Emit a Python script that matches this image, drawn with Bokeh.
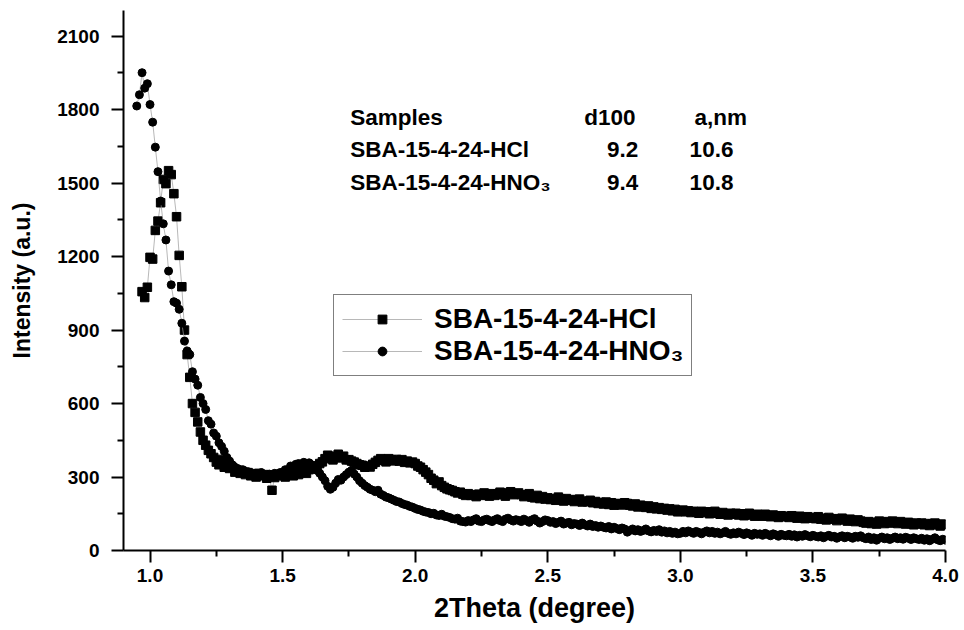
import numpy as np
from bokeh.plotting import figure
from bokeh.models import Range1d, Legend, LegendItem, Label, FixedTicker, PrintfTickFormatter
from bokeh.embed import file_html
from bokeh.resources import INLINE

# ---- data (2Theta scan, step 0.01 degree) ----
scan_step = 0.01
hcl_start = 0.97
hno3_start = 0.95

hcl_y = [
    1057, 1033, 1075,
    1197, 1190, 1307, 1345, 1420, 1515, 1498, 1551, 1535, 1457,
    1363, 1205, 1077, 900, 800, 707, 600, 564, 525, 484,
    450, 430, 409, 395, 380, 361, 350, 372, 340, 345,
    335, 340, 320, 328, 315, 322, 310, 318, 305, 312,
    300, 315, 305, 310, 295, 302, 246, 298, 310, 305,
    312, 300, 308, 315, 305, 320, 310, 318, 325, 315,
    330, 335, 345, 340, 355, 362, 375, 389, 380, 370,
    385, 393, 378, 385, 370, 371, 365, 361, 355, 350,
    348, 340, 345, 341, 352, 360, 368, 375, 370, 362,
    375, 370, 366, 372, 365, 371, 360, 365, 358, 361,
    355, 345, 340, 330, 320, 310, 295, 287, 273, 280,
    265, 258, 252, 248, 245, 240, 235, 238, 230, 225,
    232, 225, 228, 220, 230, 225, 235, 228, 222, 232,
    225, 230, 238, 228, 222, 235, 240, 228, 232, 235,
    228, 220, 225, 232, 218, 215, 225, 212, 220, 210,
    215, 208, 212, 205, 218, 210, 202, 212, 205, 208,
    200, 205, 210, 198, 202, 199, 205, 195, 200, 192,
    196, 190, 198, 188, 195, 185, 192, 190, 186, 195,
    192, 185, 182, 190, 178, 185, 180, 176, 182, 172,
    178, 170, 175, 168, 172, 165, 170, 162, 168, 158,
    160, 165, 158, 162, 155, 160, 157, 152, 160, 155,
    158, 150, 155, 160, 152, 148, 155, 150, 145, 152,
    148, 152, 145, 150, 142, 148, 152, 145, 140, 148,
    145, 140, 148, 142, 138, 145, 140, 135, 142, 138,
    140, 135, 142, 138, 132, 140, 135, 130, 138, 132,
    135, 130, 138, 128, 132, 125, 135, 128, 130, 122,
    128, 132, 125, 120, 128, 122, 118, 125, 120, 115,
    112, 118, 110, 115, 108, 120, 115, 110, 118, 112,
    120, 115, 110, 118, 112, 108, 115, 110, 105, 112,
    108, 112, 105, 110, 102, 108, 112, 105, 100, 108,
    105,
]

hno3_y = [
    1815, 1861, 1951, 1888, 1906,
    1821, 1749, 1647, 1547, 1427, 1334, 1268, 1141, 1085, 1016,
    1010, 985, 928, 855, 815, 800, 730, 700, 675, 625,
    600, 576, 530, 516, 480, 467, 440, 425, 405, 380,
    365, 350, 340, 335, 325, 330, 318, 322, 310, 315,
    312, 305, 318, 310, 300, 312, 308, 315, 305, 318,
    320, 330, 328, 345, 340, 352, 355, 348, 360, 352,
    358, 350, 340, 327, 315, 300, 285, 262, 250, 258,
    275, 290, 287, 300, 310, 320, 327, 312, 300, 285,
    275, 265, 258, 250, 246, 240, 246, 230, 225, 218,
    215, 210, 205, 200, 198, 192, 188, 185, 180, 177,
    172, 168, 165, 160, 157, 155, 150, 152, 145, 143,
    148, 140, 138, 135, 130, 128, 132, 120, 118, 116,
    122, 118, 125, 130, 120, 118, 125, 128, 122, 118,
    125, 130, 122, 118, 128, 132, 125, 120, 126, 123,
    118, 128, 122, 115, 125, 130, 120, 112, 118, 125,
    122, 115, 118, 110, 115, 120, 108, 112, 115, 105,
    110, 108, 102, 112, 105, 100, 108, 98, 102, 95,
    100, 95, 92, 98, 88, 95, 90, 85, 92, 88,
    75, 82, 88, 80, 85, 78, 82, 88, 80, 76,
    82, 78, 85, 75, 80, 72, 78, 70, 75, 68,
    70, 78, 72, 80, 75, 70, 78, 74, 68, 75,
    80, 72, 78, 70, 75, 68, 72, 78, 70, 66,
    72, 68, 75, 70, 65, 72, 68, 62, 70, 66,
    68, 62, 70, 65, 60, 68, 64, 58, 66, 62,
    60, 66, 58, 64, 55, 62, 58, 65, 60, 56,
    62, 58, 55, 60, 52, 58, 62, 55, 58, 50,
    56, 60, 52, 58, 55, 50, 58, 54, 60, 52,
    48, 55, 45, 52, 42, 50, 55, 48, 52, 45,
    50, 55, 48, 52, 46, 54, 50, 45, 52, 48,
    45, 50, 42, 48, 40, 46, 52, 44, 40, 46,
    42,
]

hcl_x = np.round(hcl_start + scan_step * np.arange(len(hcl_y)), 2)
hno3_x = np.round(hno3_start + scan_step * np.arange(len(hno3_y)), 2)

series_labels = ["SBA-15-4-24-HCl", "SBA-15-4-24-HNO\u2083"]

x_major = [1.0, 1.5, 2.0, 2.5, 3.0, 3.5, 4.0]
x_minor = [1.25, 1.75, 2.25, 2.75, 3.25, 3.75]
y_major = [0, 300, 600, 900, 1200, 1500, 1800, 2100]
y_minor = [150, 450, 750, 1050, 1350, 1650, 1950]

table_header = ["Samples", "d100", "a,nm"]
table_samples = ["SBA-15-4-24-HCl", "SBA-15-4-24-HNO\u2083"]
table_d100 = ["9.2", "9.4"]
table_a = ["10.6", "10.8"]

x_title = "2Theta (degree)"
y_title = "Intensity (a.u.)"

FONT = "Liberation Sans"

p = figure(width=964, height=630, output_backend="svg", toolbar_location=None,
           x_range=Range1d(0.9, 4.0), y_range=Range1d(0, 2205),
           min_border_left=123, min_border_right=19, min_border_top=10, min_border_bottom=80)
p.frame_width = 822
p.frame_height = 540
p.xgrid.visible = False
p.ygrid.visible = False
p.outline_line_color = None
p.background_fill_color = "white"
p.border_fill_color = "white"

for ax in (p.xaxis[0], p.yaxis[0]):
    ax.axis_line_width = 2
    ax.axis_line_color = "black"
    ax.major_tick_line_width = 2
    ax.minor_tick_line_width = 2
    ax.major_tick_out = 12
    ax.major_tick_in = 0
    ax.minor_tick_out = 6
    ax.minor_tick_in = 0
    ax.major_label_text_font = FONT
    ax.major_label_text_font_style = "bold"
    ax.major_label_text_font_size = "19px"
    ax.major_label_text_color = "black"
    ax.axis_label_text_font = FONT
    ax.axis_label_text_font_style = "bold"
    ax.axis_label_text_color = "black"

p.xaxis[0].ticker = FixedTicker(ticks=x_major, minor_ticks=x_minor)
p.yaxis[0].ticker = FixedTicker(ticks=y_major, minor_ticks=y_minor)
p.xaxis[0].formatter = PrintfTickFormatter(format="%.1f")
p.yaxis[0].formatter = PrintfTickFormatter(format="%d")
p.xaxis[0].axis_label = x_title
p.yaxis[0].axis_label = y_title
p.xaxis[0].axis_label_text_font_size = "27px"
p.yaxis[0].axis_label_text_font_size = "23px"
p.xaxis[0].major_label_standoff = 6
p.yaxis[0].major_label_standoff = 12
p.xaxis[0].axis_label_standoff = 8
p.yaxis[0].axis_label_standoff = 19

line_col = "#9a9a9a"
l1 = p.line(hcl_x, hcl_y, line_color=line_col, line_width=0.7)
s1 = p.scatter(hcl_x, hcl_y, marker="square", size=8.5, fill_color="black", line_color="black")
l2 = p.line(hno3_x, hno3_y, line_color=line_col, line_width=0.7)
s2 = p.scatter(hno3_x, hno3_y, marker="circle", size=8, fill_color="black", line_color="black")

legend = Legend(items=[LegendItem(label=series_labels[0], renderers=[l1, s1]),
                       LegendItem(label=series_labels[1], renderers=[l2, s2])],
                location=(210, 174), margin=0, padding=8, spacing=0,
                glyph_width=80, glyph_height=22, label_height=28, label_standoff=12,
                label_text_font=FONT, label_text_font_style="bold", label_text_font_size="28px",
                label_text_color="black",
                border_line_color="black", border_line_width=1.5, background_fill_alpha=1.0)
p.add_layout(legend, "center")

# table of structural parameters
col_x = [1.755, 2.638, 3.053]
val_x = [2.723, 3.035]
row_y = [1768, 1637, 1502]
TS = "22.5px"
for txt, xx in zip(table_header, col_x):
    p.add_layout(Label(x=xx, y=row_y[0], text=txt, text_baseline="middle", text_font=FONT,
                       text_font_style="bold", text_font_size=TS, text_color="black"))
for i in range(2):
    p.add_layout(Label(x=col_x[0], y=row_y[i + 1], text=table_samples[i], text_baseline="middle",
                       text_font=FONT, text_font_style="bold", text_font_size=TS, text_color="black"))
    p.add_layout(Label(x=val_x[0], y=row_y[i + 1], text=table_d100[i], text_baseline="middle",
                       text_font=FONT, text_font_style="bold", text_font_size=TS, text_color="black"))
    p.add_layout(Label(x=val_x[1], y=row_y[i + 1], text=table_a[i], text_baseline="middle",
                       text_font=FONT, text_font_style="bold", text_font_size=TS, text_color="black"))

open("out.html", "w").write(file_html(p, INLINE))
